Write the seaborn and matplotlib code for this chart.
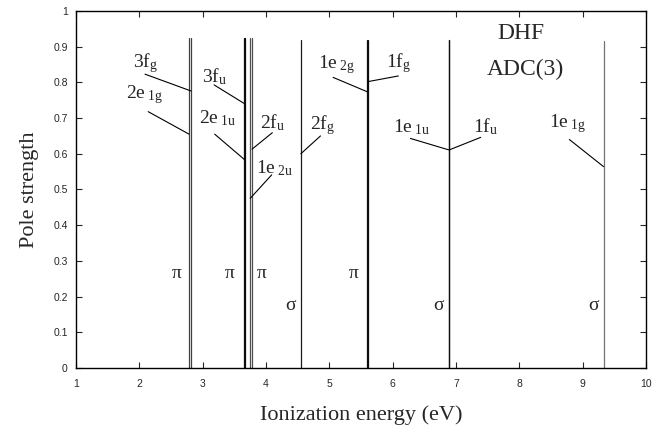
import numpy as np
import pandas as pd
import seaborn as sns
import matplotlib
matplotlib.use('Agg')
import matplotlib.pyplot as plt

# orbitals, ionization energies (eV) and pole strengths
orbitals = ['2e1g', '3fg', '3fu', '2e1u', '1e2u', '2fu', '2fg',
            '1e2g', '1fg', '1e1u', '1fu', '1e1g']
energies = [2.785, 2.815, 3.655, 3.665, 3.75, 3.78, 4.55,
            5.595, 5.605, 6.885, 6.895, 9.33]
strengths = [0.925, 0.925, 0.925, 0.925, 0.925, 0.925, 0.92,
             0.92, 0.92, 0.92, 0.92, 0.915]
labels = [r'2e$_{\ 1\rm g}$', r'3f$_{\rm g}$', r'3f$_{\rm u}$', r'2e$_{\ 1\rm u}$',
          r'1e$_{\ 2\rm u}$', r'2f$_{\rm u}$', r'2f$_{\rm g}$', r'1e$_{\ 2\rm g}$',
          r'1f$_{\rm g}$', r'1e$_{\ 1\rm u}$', r'1f$_{\rm u}$', r'1e$_{\ 1\rm g}$']
sym_labels = ['π', 'π', 'π', 'σ', 'π', 'σ', 'σ']
x_ticks = [1, 2, 3, 4, 5, 6, 7, 8, 9, 10]
y_ticks = [0, 0.1, 0.2, 0.3, 0.4, 0.5, 0.6, 0.7, 0.8, 0.9, 1]

# layout of the annotations (text centre, start of pointer, y of pointer tip)
text_pos = [(2.09, 0.765), (2.09, 0.854), (3.19, 0.816), (3.24, 0.70),
            (4.14, 0.56), (4.11, 0.686), (4.90, 0.681), (5.12, 0.849),
            (6.09, 0.854), (6.30, 0.676), (7.46, 0.676), (8.77, 0.685)]
ptr_start = [(2.14, 0.718), (2.09, 0.823), (3.18, 0.793), (3.19, 0.655),
             (4.09, 0.541), (4.10, 0.659), (4.86, 0.650), (5.06, 0.814),
             (6.09, 0.818), (6.28, 0.643), (7.39, 0.646), (8.79, 0.640)]
ptr_tip_y = [0.655, 0.776, 0.741, 0.583, 0.475, 0.613, 0.60,
             0.774, 0.802, 0.611, 0.611, 0.564]
sym_pos = [(2.59, 0.265), (3.43, 0.265), (3.94, 0.265), (4.38, 0.176),
           (5.39, 0.265), (6.72, 0.176), (9.17, 0.176)]
line_colors = ['0.25', '0.25', '0.05', '0.05', '0.3', '0.3', '0.1',
               '0.05', '0.05', '0.05', '0.05', '0.45']

sns.set_style('ticks')
plt.rcParams['font.family'] = ['Liberation Serif', 'DejaVu Serif']
plt.rcParams['mathtext.fontset'] = 'custom'
plt.rcParams['mathtext.rm'] = 'Liberation Serif'
plt.rcParams['mathtext.it'] = 'Liberation Serif:italic'

# each line as two points (0 and pole strength)
rows = []
for o, e, s in zip(orbitals, energies, strengths):
    rows.append({'orbital': o, 'energy': e, 'strength': 0.0})
    rows.append({'orbital': o, 'energy': e, 'strength': s})
df = pd.DataFrame(rows)

fig = plt.figure(figsize=(6.69, 4.26), dpi=100)
ax = fig.add_axes([0.1136, 0.1362, 0.852, 0.838])

sns.lineplot(data=df, x='energy', y='strength', hue='orbital', units='orbital',
             estimator=None, sort=False, palette=dict(zip(orbitals, line_colors)),
             linewidth=0.9, legend=False, ax=ax)

for lab, e, tp, ps, ty in zip(labels, energies, text_pos, ptr_start, ptr_tip_y):
    ax.text(tp[0], tp[1], lab, fontsize=14, ha='center', va='center')
    ax.plot([ps[0], e], [ps[1], ty], color='black', lw=0.8)

for s, p in zip(sym_labels, sym_pos):
    ax.text(p[0], p[1], s, fontsize=14, ha='center', va='center')

ax.text(8.02, 0.937, 'DHF', fontsize=17, ha='center', va='center')
ax.text(8.09, 0.835, 'ADC(3)', fontsize=17, ha='center', va='center')

ax.set_xlim(1, 10)
ax.set_ylim(0, 1)
ax.set_xticks(x_ticks)
ax.set_yticks(y_ticks)
ax.set_xticklabels([str(t) for t in x_ticks], family='Liberation Sans', fontsize=7.5)
ax.set_yticklabels(['0', '0.1', '0.2', '0.3', '0.4', '0.5', '0.6', '0.7', '0.8', '0.9', '1'],
                   family='Liberation Sans', fontsize=7.5)
ax.tick_params(direction='in', top=True, right=True, length=4, width=0.8, pad=6)
ax.tick_params(axis='x', pad=8)
for sp in ax.spines.values():
    sp.set_linewidth(1.0)
    sp.set_color('black')

ax.set_xlabel('Ionization energy (eV)', fontsize=16, labelpad=12)
ax.set_ylabel('Pole strength', fontsize=16, labelpad=10)

fig.savefig('out.png', dpi=100)
